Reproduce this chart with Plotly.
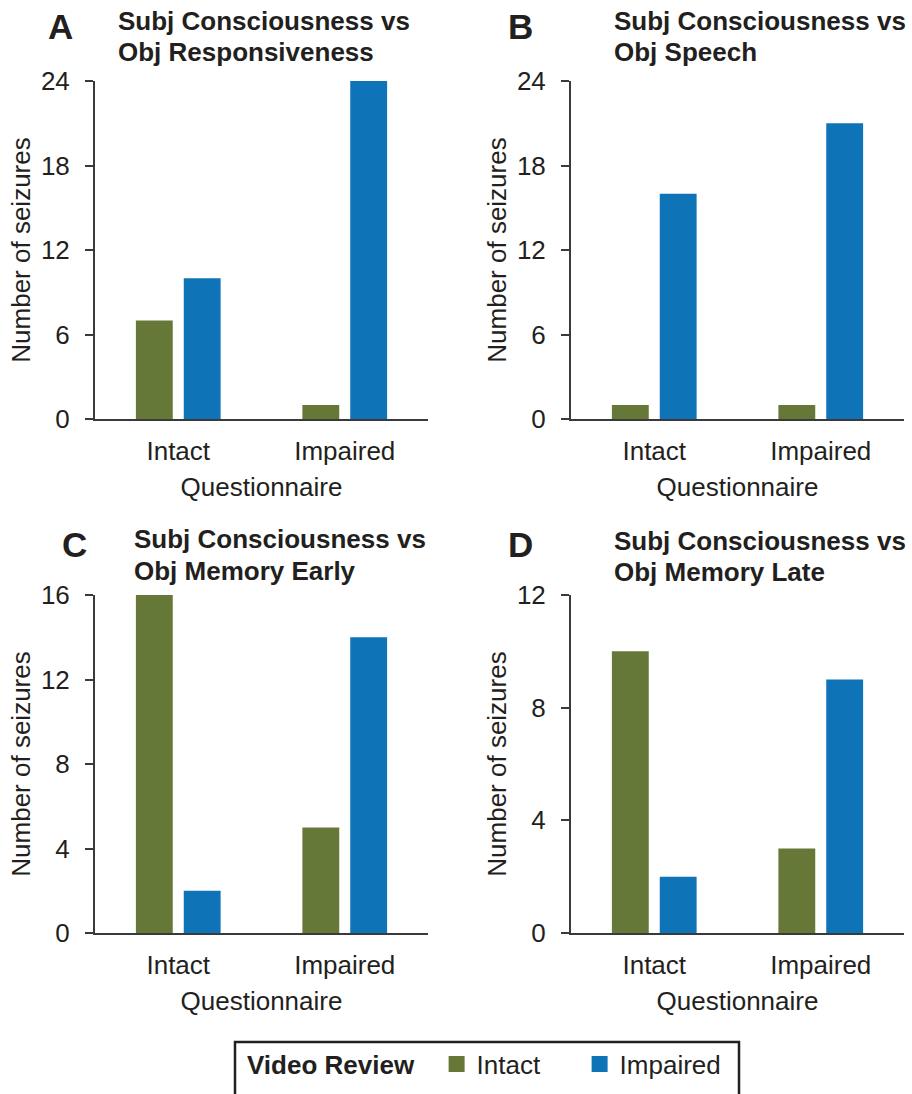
import plotly.graph_objects as go

# ---------------- data ----------------
categories = ["Intact", "Impaired"]          # Questionnaire result (x axis)
series_names = ["Intact", "Impaired"]        # Video review result (legend)

panel_letters = ["A", "B", "C", "D"]
panel_title_line1 = ["Subj Consciousness vs"] * 4
panel_title_line2 = ["Obj Responsiveness", "Obj Speech", "Obj Memory Early", "Obj Memory Late"]

video_intact_A = [7, 1]
video_impaired_A = [10, 24]
video_intact_B = [1, 1]
video_impaired_B = [16, 21]
video_intact_C = [16, 5]
video_impaired_C = [2, 14]
video_intact_D = [10, 3]
video_impaired_D = [2, 9]

y_max = [24, 24, 16, 12]
y_dtick = [6, 6, 4, 4]

# ---------------- style ----------------
W, H = 912, 1094
GREEN = "#667837"
BLUE = "#0e74b7"
AXC = "#3a3a3a"
TXT = "#231f20"
FONT = "Arial, Liberation Sans, Helvetica, sans-serif"

# plot areas in px: (x0, x1, ytop, ybottom)
areas = [(95, 428, 81, 419), (571, 904, 81, 419),
         (95, 428, 595, 933), (571, 904, 595, 933)]
# title: (left x, top of line 1, top of line 2)
title_pos = [(117, 5, 36), (613, 5, 36), (133, 523, 555), (613, 525, 556)]
letter_pos = [(47, 6), (507, 6), (61, 524), (507, 524)]

intacts = [video_intact_A, video_intact_B, video_intact_C, video_intact_D]
impaireds = [video_impaired_A, video_impaired_B, video_impaired_C, video_impaired_D]

def px_x(x):
    return x / W

def px_y(y):
    return 1 - y / H

fig = go.Figure()
annotations = []
layout_axes = {}

for i in range(4):
    sfx = "" if i == 0 else str(i + 1)
    xa, ya = "x" + sfx, "y" + sfx
    fig.add_trace(go.Bar(x=categories, y=intacts[i], name=series_names[0],
                         marker=dict(color=GREEN, line=dict(width=0)),
                         xaxis=xa, yaxis=ya, showlegend=False))
    fig.add_trace(go.Bar(x=categories, y=impaireds[i], name=series_names[1],
                         marker=dict(color=BLUE, line=dict(width=0)),
                         xaxis=xa, yaxis=ya, showlegend=False))
    x0, x1, yt, yb = areas[i]
    layout_axes["xaxis" + sfx] = dict(
        domain=[px_x(x0), px_x(x1)], anchor=ya, type="category",
        range=[-0.5, 1.5], showline=True, linecolor=AXC, linewidth=2,
        ticks="", showgrid=False, zeroline=False,
        tickfont=dict(size=26, color=TXT, family=FONT),
        ticklabelstandoff=8,
        title=dict(text="Questionnaire", font=dict(size=26, color=TXT, family=FONT),
                   standoff=13),
    )
    layout_axes["yaxis" + sfx] = dict(
        domain=[px_y(yb), px_y(yt)], anchor=xa,
        range=[0, y_max[i]], tick0=0, dtick=y_dtick[i],
        showline=True, linecolor=AXC, linewidth=2,
        ticks="outside", ticklen=8, tickwidth=2, tickcolor=AXC,
        showgrid=False, zeroline=False,
        tickfont=dict(size=26, color=TXT, family=FONT),
        ticklabelstandoff=10,
        title=dict(text="Number of seizures", font=dict(size=26, color=TXT, family=FONT),
                   standoff=3),
    )
    tx, ty1, ty2 = title_pos[i]
    for txt, ty in ((panel_title_line1[i], ty1), (panel_title_line2[i], ty2)):
        annotations.append(dict(text="<b>" + txt + "</b>",
                                xref="paper", yref="paper", x=px_x(tx), y=px_y(ty),
                                xanchor="left", yanchor="top", align="left", showarrow=False,
                                font=dict(size=26, color=TXT, family=FONT), borderpad=0))
    lx, ly = letter_pos[i]
    annotations.append(dict(text="<b>" + panel_letters[i] + "</b>",
                            xref="paper", yref="paper", x=px_x(lx), y=px_y(ly),
                            xanchor="left", yanchor="top", showarrow=False,
                            font=dict(size=35, color=TXT, family=FONT), borderpad=0))

# legend entries (swatches only)
fig.add_trace(go.Scatter(x=[None], y=[None], mode="markers", name=series_names[0],
                         marker=dict(symbol="square", size=16, color=GREEN),
                         xaxis="x", yaxis="y", showlegend=True))
fig.add_trace(go.Scatter(x=[None], y=[None], mode="markers", name=series_names[1],
                         marker=dict(symbol="square", size=16, color=BLUE),
                         xaxis="x", yaxis="y", showlegend=True))

fig.update_layout(
    width=W, height=H,
    margin=dict(l=0, r=0, t=0, b=0, autoexpand=False),
    paper_bgcolor="white", plot_bgcolor="white",
    barmode="group", bargap=0.425, bargroupgap=0.23,
    font=dict(family=FONT, color=TXT, size=26),
    annotations=annotations,
    showlegend=True,
    legend=dict(orientation="h", x=px_x(245), y=px_y(1064), xanchor="left", yanchor="middle",
                title=dict(text="<b>Video Review</b>&nbsp;&nbsp;",
                           font=dict(size=26, color=TXT, family=FONT)),
                font=dict(size=26, color=TXT, family=FONT),
                itemsizing="trace", entrywidth=98, bgcolor="rgba(0,0,0,0)", borderwidth=0),
    shapes=[dict(type="rect", xref="paper", yref="paper",
                 x0=px_x(235), x1=px_x(739), y0=px_y(1100), y1=px_y(1042),
                 line=dict(color="#231f20", width=2.5), fillcolor="rgba(0,0,0,0)")],
    **layout_axes,
)

fig.write_html("out.html", config={"displayModeBar": False},
               post_script="document.body.style.margin='0';document.body.style.overflow='hidden';")
